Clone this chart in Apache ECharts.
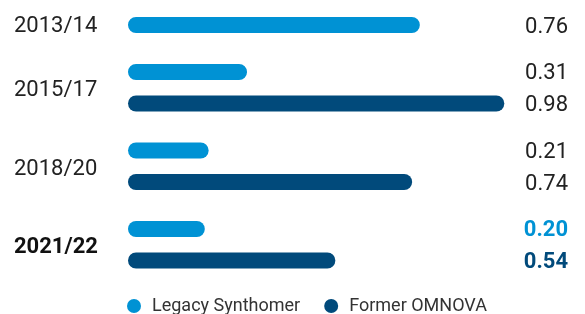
<!DOCTYPE html>
<html>
<head>
<meta charset="UTF-8">
<script src="https://cdn.jsdelivr.net/npm/echarts@6/dist/echarts.min.js"></script>
<style>
  html, body { margin: 0; padding: 0; background: #fff; }
  #chart { width: 585px; height: 314px; }
</style>
</head>
<body>
<div id="chart"></div>
<script>
var periods = ['2013/14', '2015/17', '2018/20', '2021/22'];
var legacySynthomer = [0.76, 0.31, 0.21, 0.20];
var formerOmnova = [null, 0.98, 0.74, 0.54];
var seriesNames = ['Legacy Synthomer', 'Former OMNOVA'];

var LIGHT = '#0092d4', DARK = '#014a7b', TEXT = '#222';
var last = periods.length - 1;

// legacy bar takes the upper slot when there is an OMNOVA bar, otherwise the lower one
var legacyTop = legacySynthomer.map(function (v, i) { return formerOmnova[i] == null ? null : v; });
var legacyAlone = legacySynthomer.map(function (v, i) { return formerOmnova[i] == null ? v : null; });

function withBold(arr, color) {
  return arr.map(function (v, i) {
    if (i === last && v != null) return { value: v, label: { fontWeight: 'bold', color: color } };
    return v;
  });
}

function valueLabel() {
  return {
    show: true, position: 'right', fontSize: 22, color: TEXT, fontFamily: 'Roboto',
    formatter: function (p) { return Number(p.value).toFixed(2); }
  };
}
// all value labels right-aligned at the chart's right edge, level with their bar
function rightEdge(params) {
  return {
    x: 568, y: params.rect.y + params.rect.height / 2 + 2,
    align: 'right', verticalAlign: 'middle'
  };
}

var myChart = echarts.init(document.getElementById('chart'));
var option = {
  animation: false,
  textStyle: { fontFamily: 'Roboto' },
  grid: { left: 128, width: 384, top: -30, height: 314, outerBoundsMode: 'none', containLabel: false },
  legend: {
    data: seriesNames,
    left: 122, top: 292,
    icon: 'circle', itemWidth: 14, itemHeight: 14, itemGap: 24,
    textStyle: { fontSize: 18, color: '#333', fontFamily: 'Roboto', padding: [0, 0, 0, 6] }
  },
  xAxis: { type: 'value', min: 0, max: 1, show: false },
  yAxis: {
    type: 'category', data: periods, inverse: true,
    axisLine: { show: false }, axisTick: { show: false }, splitLine: { show: false },
    axisLabel: {
      margin: 114, align: 'left', fontSize: 22, color: TEXT, fontFamily: 'Roboto',
      formatter: function (v, i) {
        if (i === last) return '{b|' + v + '}';
        if (i === 0) return '{f|' + v + '}';
        return '{n|' + v + '}';
      },
      rich: {
        n: { fontSize: 22, color: TEXT, fontFamily: 'Roboto', padding: [6, 0, 0, 0] },
        b: { fontWeight: 'bold', fontSize: 22, color: '#111', fontFamily: 'Roboto', padding: [6, 0, 0, 0] },
        f: { fontSize: 22, color: TEXT, fontFamily: 'Roboto', padding: [35, 0, 0, 0] }
      }
    }
  },
  series: [
    {
      name: seriesNames[0], type: 'bar', stack: 'upper',
      data: withBold(legacyTop, LIGHT),
      barWidth: 16, barGap: '97%',
      itemStyle: { color: LIGHT, borderRadius: 8 },
      label: valueLabel(), labelLayout: rightEdge
    },
    {
      name: seriesNames[0], type: 'bar', stack: 'lower',
      data: withBold(legacyAlone, LIGHT),
      barWidth: 16, barGap: '97%',
      itemStyle: { color: LIGHT, borderRadius: 8 },
      label: valueLabel(), labelLayout: rightEdge
    },
    {
      name: seriesNames[1], type: 'bar', stack: 'lower',
      data: withBold(formerOmnova, DARK),
      barWidth: 16, barGap: '97%',
      itemStyle: { color: DARK, borderRadius: 8 },
      label: valueLabel(), labelLayout: rightEdge
    }
  ]
};
myChart.setOption(option);
window.addEventListener('resize', function () { myChart.resize(); });
</script>
</body>
</html>
